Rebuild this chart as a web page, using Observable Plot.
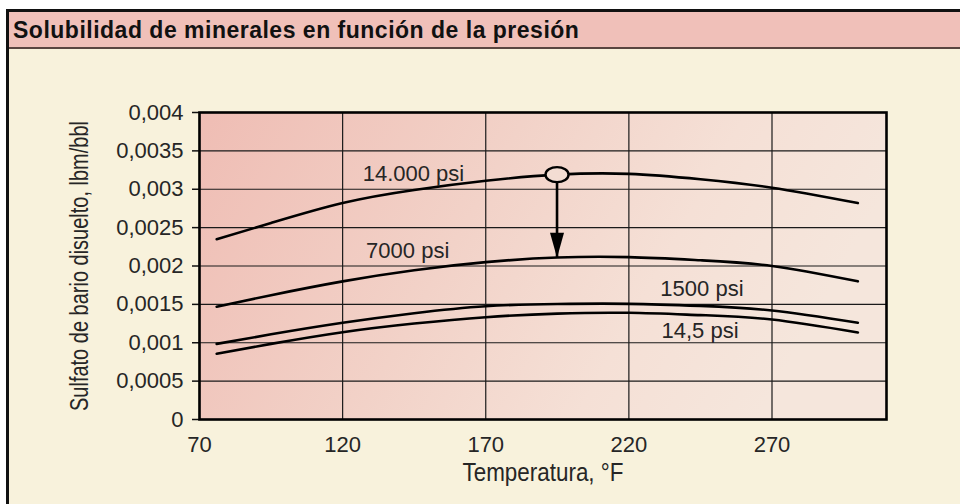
<!DOCTYPE html>
<html>
<head>
<meta charset="utf-8">
<script src="https://cdn.jsdelivr.net/npm/d3@7"></script>
<script src="https://cdn.jsdelivr.net/npm/@observablehq/plot@0.6"></script>
<style>
  html, body { margin: 0; padding: 0; background: #ffffff; width: 960px; height: 504px; overflow: hidden; }
  #frame { position: absolute; left: 6px; top: 9px; width: 980px; height: 520px; border-left: 3px solid #111; border-top: 3px solid #111; background: #f8f2dc; }
  #title { position: absolute; left: 9px; top: 12px; width: 960px; height: 35px; background: #f0c0b9; border-bottom: 2px solid #5a4540;
           font: bold 23px "Liberation Sans", Arial, sans-serif; color: #111; line-height: 36px; padding-left: 4px; letter-spacing: 0.5px; white-space: nowrap; }
  #chart { position: absolute; left: 0; top: 49px; }
  #leftline { position: absolute; left: 6px; top: 9px; width: 3px; height: 520px; background: #111; }
</style>
</head>
<body>
<div id="frame"></div>
<div id="title">Solubilidad de minerales en función de la presión</div>
<div id="chart"></div>
<div id="leftline"></div>
<script>
// Temperature (°F) sample points
const temps   = [76, 95, 120, 145, 170, 195, 220, 245, 270, 300];
// Dissolved barium sulfate, lbm/bbl, for each pressure
const p14000  = [0.00235, 0.00256, 0.00282, 0.00299, 0.00311, 0.00319, 0.00320, 0.00313, 0.00302, 0.00282];
const p7000   = [0.00147, 0.00162, 0.00180, 0.001945, 0.00205, 0.00211, 0.002115, 0.002075, 0.00200, 0.00180];
const p1500   = [0.000985, 0.00111, 0.00126, 0.001385, 0.001476, 0.001505, 0.001507, 0.00148, 0.00142, 0.00126];
const p14_5   = [0.000856, 0.000985, 0.001137, 0.00125, 0.001333, 0.00138, 0.00139, 0.00136, 0.001303, 0.001134];
const seriesNames = ["14.000 psi", "7000 psi", "1500 psi", "14,5 psi"];
// Label anchor points (temperature, solubility)
const labelX = [127, 128.2, 231, 231.4];
const labelY = [0.003205, 0.002198, 0.001698, 0.001156];
// Marker (circle) and arrow target
const markerX = [194.9];
const markerY = [0.00319];
const arrowToY = [0.002107];
const xTicks = [70, 120, 170, 220, 270];
const yTicks = [0, 0.0005, 0.001, 0.0015, 0.002, 0.0025, 0.003, 0.0035, 0.004];
const xTitle = "Temperatura, °F";
const yTitle = "Sulfato de bario disuelto, lbm/bbl";

const allSeries = [p14000, p7000, p1500, p14_5];
const rows = allSeries.flatMap((vals, i) => temps.map((t, j) => ({series: seriesNames[i], t, v: vals[j]})));
const labels = seriesNames.map((s, i) => ({s, x: labelX[i], y: labelY[i]}));
const marker = markerX.map((x, i) => ({x, y: markerY[i], y2: arrowToY[i]}));

const ellipse = {
  draw(ctx) {
    const rx = 11.5, ry = 7.5, k = 0.5523, kx = rx * k, ky = ry * k;
    ctx.moveTo(rx, 0);
    ctx.bezierCurveTo(rx, ky, kx, ry, 0, ry);
    ctx.bezierCurveTo(-kx, ry, -rx, ky, -rx, 0);
    ctx.bezierCurveTo(-rx, -ky, -kx, -ry, 0, -ry);
    ctx.bezierCurveTo(kx, -ry, rx, -ky, rx, 0);
    ctx.closePath();
  }
};
const headDown = {
  draw(ctx) {
    ctx.moveTo(-7, -25);
    ctx.lineTo(7, -25);
    ctx.lineTo(0, 0);
    ctx.closePath();
  }
};

const fmt = d => String(d).replace(".", ",");

const plot = Plot.plot({
  width: 960,
  height: 455,
  marginLeft: 199,
  marginRight: 74,
  marginTop: 63,
  marginBottom: 85,
  style: {background: "transparent", fontFamily: "'Liberation Sans', Arial, sans-serif", fontSize: "22px", color: "#262626"},
  x: {domain: [70, 310]},
  y: {domain: [0, 0.004]},
  marks: [
    Plot.frame({fill: "url(#bg)", stroke: "none"}),
    Plot.gridX({ticks: xTicks, stroke: "#1a1a1a", strokeOpacity: 1, strokeWidth: 1.2}),
    Plot.gridY({ticks: yTicks, stroke: "#1a1a1a", strokeOpacity: 1, strokeWidth: 1.2}),
    Plot.axisX({ticks: xTicks, tickSize: 0, tickPadding: 17, label: null, fontSize: 22}),
    Plot.axisY({ticks: yTicks, tickSize: 7, tickPadding: 9, tickFormat: fmt, label: null, fontSize: 22, stroke: "#111", strokeWidth: 1.5}),
    Plot.line(rows, {x: "t", y: "v", z: "series", curve: "natural", stroke: "#000", strokeWidth: 2.6}),
    Plot.link(marker, {x1: "x", x2: "x", y1: "y", y2: "y2", stroke: "#000", strokeWidth: 2.6}),
    Plot.dot(marker, {x: "x", y: "y2", symbol: headDown, fill: "#000", stroke: "none"}),
    Plot.dot(marker, {x: "x", y: "y", symbol: ellipse, fill: "#f3ddd3", stroke: "#000", strokeWidth: 2.4}),
    Plot.text(labels, {x: "x", y: "y", text: "s", textAnchor: "start", fontSize: 22, fill: "#262626"}),
    Plot.text([yTitle], {frameAnchor: "left", textAnchor: "middle", lineAnchor: "middle", rotate: -90, dx: -120, fontSize: 26, fill: "#262626"}),
    Plot.text([xTitle], {frameAnchor: "bottom", textAnchor: "middle", lineAnchor: "middle", dy: 53, fontSize: 25, fill: "#262626"}),
    Plot.frame({stroke: "#000", strokeWidth: 2.6})
  ]
});

// condense the axis titles like the reference's narrow face
d3.select(plot).selectAll("text").each(function() {
  if (this.textContent === yTitle) d3.select(this).attr("textLength", 290).attr("lengthAdjust", "spacingAndGlyphs");
  if (this.textContent === xTitle) d3.select(this).attr("textLength", 161).attr("lengthAdjust", "spacingAndGlyphs");
});

const defs = d3.select(plot).insert("defs", ":first-child");
const g = defs.append("linearGradient").attr("id", "bg").attr("x1", "0").attr("y1", "0").attr("x2", "1").attr("y2", "0.25");
g.append("stop").attr("offset", "0").attr("stop-color", "#efbdb4");
g.append("stop").attr("offset", "0.45").attr("stop-color", "#f2d2c8");
g.append("stop").attr("offset", "0.75").attr("stop-color", "#f5e0d6");
g.append("stop").attr("offset", "1").attr("stop-color", "#f5e6dc");

document.getElementById("chart").appendChild(plot);
</script>
</body>
</html>
